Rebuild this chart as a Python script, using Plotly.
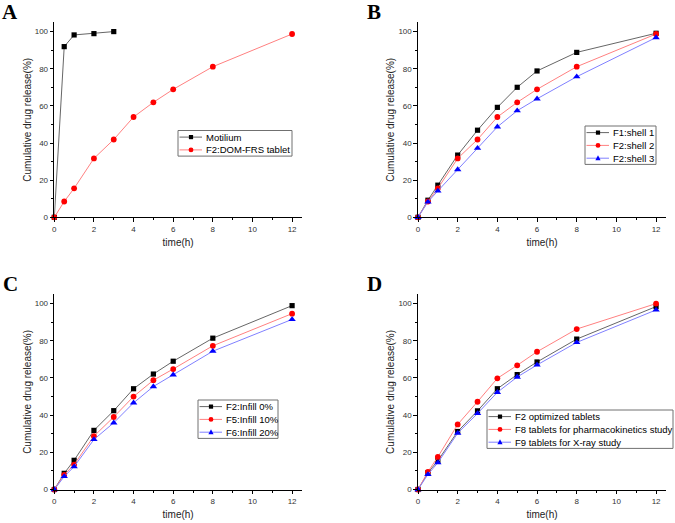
import plotly.graph_objects as go

# ---------------- data ----------------
time_motilium = [0, 0.5, 1, 2, 3]
time_h = [0, 0.5, 1, 2, 3, 4, 5, 6, 8, 12]

# Panel A
motilium = [0, 91.9, 98.2, 98.9, 100]
f2_dom_frs = [0, 8.5, 15.6, 31.7, 41.9, 54.0, 61.9, 68.9, 81.1, 98.7]

# Panel B
f1_shell1 = [0, 9.2, 17.3, 33.5, 46.9, 59.2, 70.0, 78.8, 88.8, 99.1]
f2_shell2 = [0, 8.5, 15.6, 31.7, 41.9, 54.0, 61.9, 68.9, 81.1, 98.7]
f2_shell3 = [0, 8.3, 14.2, 25.7, 37.2, 48.7, 57.4, 63.8, 75.7, 96.8]

# Panel C
f2_infill0 = [0, 8.7, 15.7, 31.8, 42.4, 54.2, 62.1, 69.0, 81.4, 98.9]
f5_infill10 = [0, 7.9, 13.4, 28.7, 39.0, 50.0, 58.8, 64.8, 77.3, 94.6]
f6_infill20 = [0, 7.0, 12.3, 26.9, 35.9, 46.6, 55.4, 61.7, 74.4, 91.5]

# Panel D
f2_optimized = [0, 9.0, 15.5, 31.2, 42.3, 54.2, 61.8, 68.6, 80.9, 98.4]
f8_pk = [0, 9.5, 17.5, 35.0, 47.2, 59.8, 66.8, 74.1, 86.3, 100.0]
f9_xray = [0, 8.1, 14.4, 30.3, 40.9, 52.3, 60.5, 67.0, 79.1, 96.6]

panel_labels = ["A", "B", "C", "D"]
x_title = "time(h)"
y_title = "Cumulative drug release(%)"

# ---------------- styles ----------------
W, H = 675, 523
STY = {
    "k": dict(line="#666666", mk="black", sym="square", size=5.2, lsize=4.2),
    "r": dict(line="#ff8080", mk="#ff0000", sym="circle", size=5.8, lsize=4.8),
    "b": dict(line="#8080ff", mk="#0000ff", sym="triangle-up", size=6.5, lsize=5.2),
}
FONT = "Liberation Sans, Arial, sans-serif"

panels = [
    dict(xs=[time_motilium, time_h], ys=[motilium, f2_dom_frs], st=["k", "r"],
         names=["Motilium", "F2:DOM-FRS tablet"],
         leg=(178, 130.5, 114)),
    dict(xs=[time_h] * 3, ys=[f1_shell1, f2_shell2, f2_shell3], st=["k", "r", "b"],
         names=["F1:shell 1", "F2:shell 2", "F2:shell 3"],
         leg=(585, 126, 71)),
    dict(xs=[time_h] * 3, ys=[f2_infill0, f5_infill10, f6_infill20], st=["k", "r", "b"],
         names=["F2:Infill 0%", "F5:Infill 10%", "F6:Infill 20%"],
         leg=(198, 400, 80)),
    dict(xs=[time_h] * 3, ys=[f2_optimized, f8_pk, f9_xray], st=["k", "r", "b"],
         names=["F2 optimized tablets", "F8 tablets for pharmacokinetics study",
                "F9 tablets for X-ray study"],
         leg=(487, 410, 186)),
]

# pixel boxes of plot areas (left, right, top, bottom)
boxes = [
    (54.3, 302, 22.3, 217.3),
    (418, 666, 22.3, 217.3),
    (54.3, 302, 294.3, 489.5),
    (418, 666, 294.3, 489.5),
]
label_pos = [(10, 12), (374, 12), (10, 284), (374, 284)]


def px(x):
    return x / W


def py(y):
    return 1 - y / H


fig = go.Figure()
shapes, annotations = [], []

for i, (p, b) in enumerate(zip(panels, boxes)):
    n = "" if i == 0 else str(i + 1)
    xa, ya = "x" + n, "y" + n
    for xs, ys, s, name in zip(p["xs"], p["ys"], p["st"], p["names"]):
        st = STY[s]
        fig.add_trace(go.Scatter(
            x=xs, y=ys, mode="lines+markers", name=name, showlegend=False,
            xaxis=xa, yaxis=ya, cliponaxis=False,
            line=dict(color=st["line"], width=1),
            marker=dict(color=st["mk"], symbol=st["sym"], size=st["size"],
                        line=dict(width=0)),
        ))
    axis_common = dict(
        showline=True, linecolor="black", linewidth=1.3, showgrid=False,
        zeroline=False, ticks="outside", ticklen=3.5, tickwidth=1,
        tickcolor="black", tickfont=dict(family=FONT, size=8, color="#333333"),
        minor=dict(ticks="outside", ticklen=2, tickwidth=1, tickcolor="black"),
        automargin=False,
    )
    fig.layout["xaxis" + n] = dict(
        axis_common, domain=[px(b[0]), px(b[1])], anchor=ya, range=[0, 12.5],
        tickmode="linear", tick0=0, dtick=2,
        minor=dict(axis_common["minor"], dtick=1),
        title=dict(text=x_title, font=dict(family=FONT, size=10, color="#222222"),
                   standoff=6),
    )
    fig.layout["yaxis" + n] = dict(
        axis_common, domain=[py(b[3]), py(b[2])], anchor=xa, range=[0, 105],
        tickmode="linear", tick0=0, dtick=20,
        minor=dict(axis_common["minor"], dtick=10),
        title=dict(text=y_title, font=dict(family=FONT, size=10, color="#222222"),
                   standoff=1),
    )

    # panel label
    lx, ly = label_pos[i]
    annotations.append(dict(
        x=px(lx), y=py(ly), xref="paper", yref="paper", text="<b>%s</b>" % panel_labels[i],
        showarrow=False, xanchor="center", yanchor="middle",
        font=dict(family="Liberation Serif, Times New Roman, serif", size=21, color="black"),
    ))

    # legend box drawn manually
    L, T, Wd = p["leg"]
    row = 12.8
    nrows = len(p["names"])
    shapes.append(dict(type="rect", xref="paper", yref="paper",
                       x0=px(L), x1=px(L + Wd), y0=py(T), y1=py(T + row * nrows),
                       line=dict(color="#707070", width=1), fillcolor="white"))
    for k, (s, name) in enumerate(zip(p["st"], p["names"])):
        st = STY[s]
        yc = T + 6.6 + row * k
        shapes.append(dict(type="line", xref="paper", yref="paper",
                           x0=px(L + 1.5), x1=px(L + 24), y0=py(yc), y1=py(yc),
                           line=dict(color=st["line"], width=1)))
        mx = L + 13
        r = st["lsize"] / 2
        if st["sym"] == "square":
            shapes.append(dict(type="rect", xref="paper", yref="paper",
                               x0=px(mx - r), x1=px(mx + r),
                               y0=py(yc - r), y1=py(yc + r),
                               fillcolor=st["mk"], line=dict(width=0)))
        elif st["sym"] == "circle":
            shapes.append(dict(type="circle", xref="paper", yref="paper",
                               x0=px(mx - r), x1=px(mx + r),
                               y0=py(yc - r), y1=py(yc + r),
                               fillcolor=st["mk"], line=dict(width=0)))
        else:
            path = "M %f %f L %f %f L %f %f Z" % (
                px(mx), py(yc - r * 1.1), px(mx - r), py(yc + r * 0.8),
                px(mx + r), py(yc + r * 0.8))
            shapes.append(dict(type="path", xref="paper", yref="paper", path=path,
                               fillcolor=st["mk"], line=dict(width=0)))
        annotations.append(dict(
            x=px(L + 25.5), y=py(yc), xref="paper", yref="paper", text=name,
            showarrow=False, xanchor="left", yanchor="middle",
            font=dict(family=FONT, size=9.5, color="black"),
        ))

fig.update_layout(
    width=W, height=H, margin=dict(l=0, r=0, t=0, b=0),
    paper_bgcolor="white", plot_bgcolor="white",
    shapes=shapes, annotations=annotations, showlegend=False,
)

fig.write_html(
    "out.html",
    config={"displayModeBar": False},
    post_script="document.body.style.margin='0';document.body.style.padding='0';"
                "document.body.style.overflow='hidden';",
)
